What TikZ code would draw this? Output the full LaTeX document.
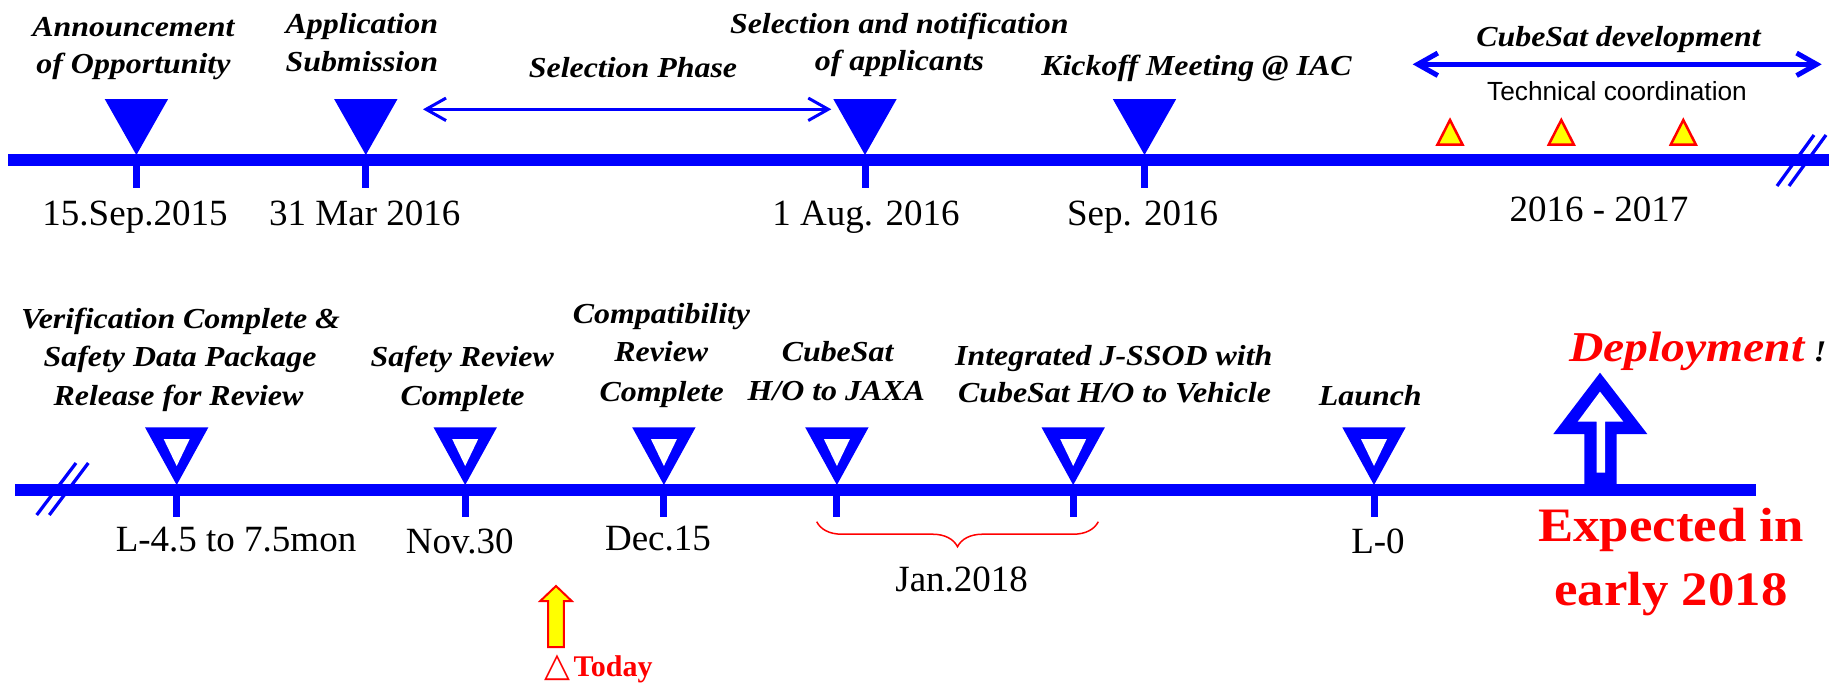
\documentclass[tikz,border=0pt]{standalone}
\usepackage{fontspec}
\setmainfont{Liberation Serif}
\newfontfamily\lblfont[FakeStretch=1.1]{Liberation Serif}
\newfontfamily\depfont[FakeStretch=1.12]{Liberation Serif}
\newfontfamily\arialfont{Liberation Sans}
\newfontfamily\symfont{DejaVu Sans}
\usetikzlibrary{arrows.meta,decorations.pathreplacing}
\definecolor{tlblue}{RGB}{0,0,255}
\definecolor{tlred}{RGB}{255,0,0}
\definecolor{tlyellow}{RGB}{255,255,0}
\begin{document}
\begin{tikzpicture}[x=0.4pt,y=-0.4pt,
  lbl/.style={font=\lblfont\bfseries\itshape\fontsize{11.6}{14}\selectfont, anchor=base, inner sep=0pt},
  datelbl/.style={font=\fontsize{14.8}{17}\selectfont, anchor=base, inner sep=0pt},
  techlbl/.style={font=\arialfont\fontsize{10.5}{12}\selectfont, anchor=base, inner sep=0pt},
  biglbl/.style={font=\lblfont\bfseries\fontsize{19.2}{22}\selectfont, text=tlred, anchor=base, inner sep=0pt},
  slash/.style={draw=tlblue, line width=1.3pt},
  spanarrow/.style={draw=tlblue, {Straight Barb[length=8pt,width=9pt]}-{Straight Barb[length=8pt,width=9pt]}},
  marker/.style={fill=tlyellow, draw=tlred, line width=1pt}]
\useasboundingbox (0,0) rectangle (1835,682);

% ---------------- top timeline ----------------
\fill[tlblue] (7.9,154) rectangle (1829,166);
\draw[slash] (1777,186) -- (1814,135);
\draw[slash] (1789,186) -- (1826,135);
\foreach \x in {136.4,365.8,865,1144.5} {
  \fill[tlblue] (\x-31.7,99) -- (\x+31.7,99) -- (\x,155) -- cycle;
  \fill[tlblue] (\x-3.5,160) rectangle (\x+3.5,188);
}
\foreach \x in {1450,1561.3,1683.3}
  \filldraw[marker] (\x-12.5,144.5) -- (\x+12.5,144.5) -- (\x,120) -- cycle;

\coordinate (selL) at (423,109.3);
\coordinate (selR) at (831.3,109.3);
\draw[spanarrow, line width=1.2pt] (selL) -- (selR);
\coordinate (devL) at (1412.7,64.3);
\coordinate (devR) at (1821.7,64.3);
\draw[spanarrow, line width=2pt] (devL) -- (devR);

\node[lbl] (ann1) at (133.5,36.7) {Announcement};
\node[lbl] (ann2) at (133.5,73) {of Opportunity};
\node[lbl] (app1) at (361.8,33.3) {Application};
\node[lbl] (app2) at (361.8,71) {Submission};
\node[lbl] (selph) at (633,77) {Selection Phase};
\node[lbl] (seln1) at (899.3,33) {Selection and notification};
\node[lbl] (seln2) at (899.5,70) {of applicants};
\node[lbl] (kick) at (1196.5,75) {Kickoff Meeting @ IAC};
\node[lbl] (dev) at (1618.5,46.7) {CubeSat development};
\node[techlbl] (tech) at (1617,100) {Technical coordination};

\node[datelbl] (d1) at (135,225) {15.Sep.2015};
\node[datelbl] (d2) at (364.8,225) {31 Mar 2016};
\node[datelbl] (d3) at (866,225) {1 Aug. 2016};
\node[datelbl] (d4) at (1142.7,225) {Sep. 2016};
\node[datelbl] (d5) at (1599,221.7) {2016 - 2017};

% ---------------- bottom timeline ----------------
\fill[tlblue] (15,484) rectangle (1756,496);
\draw[slash] (36.7,515) -- (76,463);
\draw[slash] (49.3,515) -- (88.3,463);
\foreach \x in {176.7,465.2,663.9,836.9,1073.2,1374} {
  \fill[tlblue] (\x-31.7,427.3) -- (\x+31.7,427.3) -- (\x,485) -- cycle;
  \fill[white] (\x-13,439) -- (\x+13,439) -- (\x,466) -- cycle;
  \fill[tlblue] (\x-3.5,490) rectangle (\x+3.5,517);
}
% deployment arrow
\fill[tlblue] (1584.3,490) -- (1584.3,434) -- (1553.3,434) -- (1600,372.7) -- (1647.3,434) -- (1616.7,434) -- (1616.7,490) -- cycle;
\fill[white] (1596.7,472.7) -- (1596.7,421.7) -- (1577.7,421.7) -- (1600,391.7) -- (1623.3,421.7) -- (1605,421.7) -- (1605,472.7) -- cycle;
% today arrow
\filldraw[fill=tlyellow, draw=tlred, line width=0.8pt] (548.2,647) -- (548.2,601) -- (540.3,601) -- (556,586) -- (571.7,601) -- (563.8,601) -- (563.8,647) -- cycle;
% brace
\coordinate (brL) at (816.7,521.7);
\coordinate (brR) at (1098.3,521.7);
\draw[tlred, line width=0.6pt, decorate, decoration={brace, mirror, amplitude=10pt, aspect=0.5}] (brL) -- (brR);

\node[lbl] (ver1) at (180.5,328.3) {Verification Complete \&};
\node[lbl] (ver2) at (180,366.7) {Safety Data Package};
\node[lbl] (ver3) at (178.5,405) {Release for Review};
\node[lbl] (saf1) at (462.2,366.7) {Safety Review};
\node[lbl] (saf2) at (462.6,405) {Complete};
\node[lbl] (com1) at (661.5,323.3) {Compatibility};
\node[lbl] (com2) at (661.3,361.7) {Review};
\node[lbl] (com3) at (661.7,401.7) {Complete};
\node[lbl] (cub1) at (837.6,361.7) {CubeSat};
\node[lbl] (cub2) at (836.3,400) {H/O to JAXA};
\node[lbl] (int1) at (1113.8,365) {Integrated J-SSOD with};
\node[lbl] (int2) at (1114.5,402.7) {CubeSat H/O to Vehicle};
\node[lbl] (lau) at (1370.3,405) {Launch};

\node[datelbl] (e1) at (236,551.7) {L-4.5 to 7.5mon};
\node[datelbl] (e2) at (459.7,553) {Nov.30};
\node[datelbl] (e3) at (658,550) {Dec.15};
\node[datelbl] (e4) at (1378,553) {L-0};
\node[datelbl] (jan) at (961.7,591.7) {Jan.2018};

\node[font=\depfont\bfseries\itshape\fontsize{17}{20}\selectfont, text=tlred, anchor=base, inner sep=0pt] (dep) at (1686.8,361.7) {Deployment};
\node[lbl, font=\lblfont\bfseries\itshape\fontsize{12}{14}\selectfont, anchor=base west] (excl) at (1813,361.7) {!};
\node[biglbl] (exp1) at (1671,541.7) {Expected in};
\node[biglbl] (exp2) at (1671,605) {early 2018};
\node[font=\bfseries\fontsize{12}{14}\selectfont, text=tlred, anchor=base west, inner sep=0pt] (today) at (543.5,676.7) {{\symfont\bfseries\fontsize{13.5}{14}\selectfont △}\hspace{1.5pt}Today};
\end{tikzpicture}
\end{document}
